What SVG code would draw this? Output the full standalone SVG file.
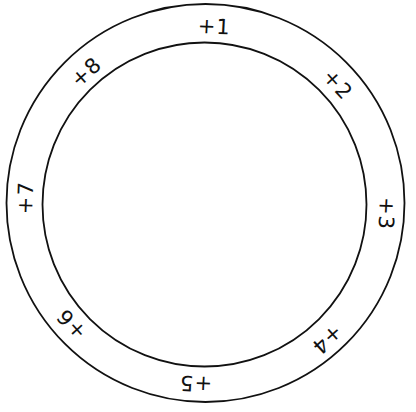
<svg xmlns="http://www.w3.org/2000/svg" width="416" height="412" viewBox="0 0 416 412">
<style>
.ring{fill:none;stroke:#111;stroke-width:1.8}
.lbl{font-family:"DejaVu Sans",sans-serif;font-size:21px;fill:#111;text-anchor:middle;letter-spacing:1px}
</style>
<rect width="416" height="412" fill="#fff"/>
<g id="outer-circle"><circle class="ring" cx="205.5" cy="203" r="199"/></g>
<g id="inner-circle"><circle class="ring" cx="204.5" cy="204.5" r="162"/></g>
<g id="labels" transform="translate(205,204)">
<g id="l1" transform="rotate(3) translate(0,-178)"><text class="lbl" x="0" y="7.5">+1</text></g>
<g id="l2" transform="rotate(48) translate(0,-179)"><text class="lbl" x="0" y="7.5">+2</text></g>
<g id="l3" transform="rotate(93) translate(0,-182)"><text class="lbl" x="0" y="7.5">+3</text></g>
<g id="l4" transform="rotate(138) translate(0,-183)"><text class="lbl" x="0" y="7.5">+4</text></g>
<g id="l5" transform="rotate(183) translate(0,-180)"><text class="lbl" x="0" y="7.5">+5</text></g>
<g id="l6" transform="rotate(228) translate(0,-180)"><text class="lbl" x="0" y="7.5">+6</text></g>
<g id="l7" transform="rotate(272) translate(0,-180)"><text class="lbl" x="0" y="7.5">+7</text></g>
<g id="l8" transform="rotate(318) translate(0,-178)"><text class="lbl" x="0" y="7.5">+8</text></g>
</g>
</svg>
